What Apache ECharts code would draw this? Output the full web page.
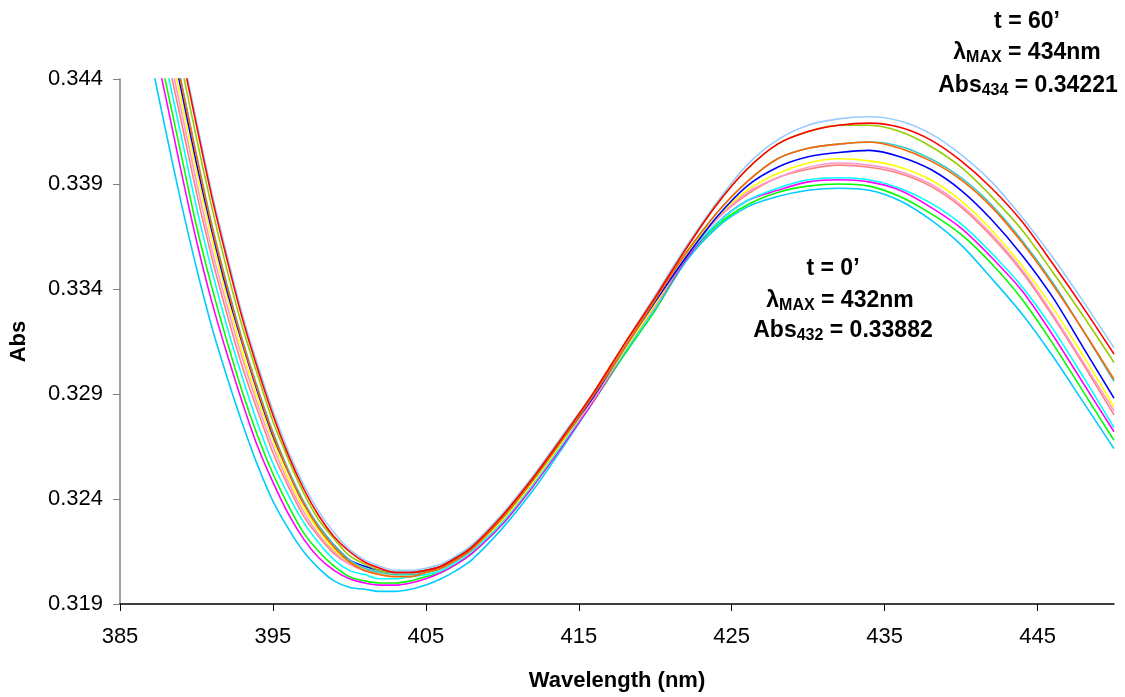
<!DOCTYPE html>
<html><head><meta charset="utf-8">
<script src="https://cdn.jsdelivr.net/npm/echarts@6/dist/echarts.min.js"></script>
<style>html,body{margin:0;padding:0;background:#fff}#c{width:1125px;height:697px}</style>
</head><body><div id="c"></div>
<script>
const wavelengths = [386,387,388,389,390,391,392,393,394,395,396,397,398,399,400,401,402,403,404,405,406,407,408,
  410,412,414,416,418,420,422,424,426,428,430,432,434,436,438,440,442,444,446,448,450];
const xTicks = [385,395,405,415,425,435,445];
const yTicks = [0.319,0.324,0.329,0.334,0.339,0.344];

const sLightBlue = [0.3567,0.3528,0.3490,0.3455,0.3420,0.3386,0.3356,0.3328,0.3304,0.3282,0.3263,0.3247,0.3234,0.3224,0.3216,0.3211,0.3208,
  0.3206,0.3206,0.3207,0.3209,0.3213,0.3218,
  0.3233,0.3251,0.3271,0.3291,0.3314,0.3337,0.3360,0.3381,0.3399,0.3411,0.3418,0.3421,
  0.3422,0.3420,0.3414,0.3404,0.3391,0.3374,0.3355,0.3334,0.3312];
const sRed = [0.3565,0.3526,0.3488,0.3453,0.3418,0.3384,0.3354,0.3326,0.3302,0.3280,0.3261,0.3245,0.3232,0.3222,0.3215,0.3210,0.3207,
  0.3205,0.3205,0.3206,0.3208,0.3212,0.3217,
  0.3232,0.3250,0.3270,0.3291,0.3314,0.3336,0.3359,0.3380,0.3397,0.3409,0.3415,0.3418,
  0.3419,0.3417,0.3411,0.3401,0.3388,0.3372,0.3352,0.3331,0.3309];
const sYellowGreen = [0.3558,0.3519,0.3481,0.3447,0.3412,0.3379,0.3349,0.3322,0.3299,0.3277,0.3259,0.3243,0.3230,0.3221,0.3213,0.3209,0.3206,
  0.3205,0.3205,0.3206,0.3208,0.3212,0.3217,
  0.3232,0.3250,0.3270,0.3291,0.3314,0.3336,0.3359,0.3380,0.3397,0.3409,0.3415,0.3418,
  0.3418,0.3415,0.3408,0.3398,0.3384,0.3368,0.3348,0.3327,0.3305];
const sOrange = [0.3548,0.3509,0.3472,0.3438,0.3403,0.3370,0.3341,0.3315,0.3292,0.3271,0.3253,0.3238,0.3226,0.3217,0.3210,0.3206,0.3204,
  0.3203,0.3203,0.3205,0.3207,0.3211,0.3216,
  0.3231,0.3249,0.3269,0.3290,0.3312,0.3335,0.3357,0.3376,0.3391,0.3402,0.3407,0.3409,
  0.3410,0.3407,0.3401,0.3392,0.3379,0.3362,0.3342,0.3320,0.3297];
const sTeal = [0.3547,0.3509,0.3473,0.3439,0.3404,0.3371,0.3342,0.3316,0.3293,0.3272,0.3254,0.3239,0.3227,0.3218,0.3211,0.3207,0.3205,
  0.3204,0.3204,0.3205,0.3207,0.3211,0.3216,
  0.3231,0.3249,0.3269,0.3290,0.3312,0.3335,0.3357,0.3376,0.3391,0.3402,0.3407,0.3409,
  0.3410,0.3408,0.3402,0.3393,0.3380,0.3363,0.3343,0.3320,0.3296];
const sBlue = [0.3544,0.3505,0.3469,0.3435,0.3400,0.3368,0.3339,0.3314,0.3291,0.3270,0.3253,0.3238,0.3227,0.3218,0.3211,0.3208,0.3206,
  0.3205,0.3205,0.3206,0.3208,0.3212,0.3217,
  0.3231,0.3249,0.3269,0.3289,0.3312,0.3334,0.3355,0.3374,0.3389,0.3398,0.3403,0.3405,
  0.3406,0.3403,0.3397,0.3387,0.3373,0.3356,0.3336,0.3312,0.3288];
const sYellow = [0.3539,0.3501,0.3465,0.3430,0.3396,0.3364,0.3336,0.3310,0.3288,0.3268,0.3250,0.3236,0.3225,0.3216,0.3210,0.3207,0.3205,
  0.3204,0.3204,0.3205,0.3207,0.3211,0.3216,
  0.3230,0.3248,0.3268,0.3289,0.3311,0.3333,0.3356,0.3374,0.3387,0.3395,0.3400,0.3402,
  0.3401,0.3398,0.3392,0.3382,0.3368,0.3351,0.3331,0.3308,0.3284];
const sPink = [0.3533,0.3495,0.3459,0.3425,0.3391,0.3359,0.3332,0.3307,0.3285,0.3265,0.3248,0.3234,0.3223,0.3215,0.3209,0.3206,0.3205,
  0.3204,0.3204,0.3205,0.3207,0.3211,0.3216,
  0.3230,0.3248,0.3268,0.3288,0.3311,0.3332,0.3356,0.3373,0.3386,0.3393,0.3398,0.3400,
  0.3399,0.3396,0.3390,0.3380,0.3366,0.3349,0.3328,0.3305,0.3282];
const sSalmon = [0.3528,0.3490,0.3454,0.3420,0.3386,0.3355,0.3328,0.3303,0.3282,0.3262,0.3246,0.3232,0.3222,0.3214,0.3209,0.3206,0.3205,
  0.3204,0.3204,0.3205,0.3207,0.3211,0.3216,
  0.3230,0.3248,0.3268,0.3288,0.3311,0.3332,0.3355,0.3373,0.3385,0.3393,0.3397,0.3399,
  0.3398,0.3395,0.3389,0.3379,0.3365,0.3348,0.3327,0.3304,0.3280];
const sCyan = [0.3520,0.3482,0.3447,0.3413,0.3379,0.3349,0.3322,0.3298,0.3276,0.3257,0.3242,0.3229,0.3219,0.3211,0.3206,0.3204,0.3202,
  0.3202,0.3203,0.3204,0.3206,0.3210,0.3215,
  0.3229,0.3247,0.3267,0.3288,0.3310,0.3331,0.3355,0.3371,0.3382,0.3388,0.3392,0.3393,
  0.3392,0.3388,0.3381,0.3371,0.3357,0.3341,0.3321,0.3298,0.3274];
const sMagenta = [0.3501,0.3465,0.3431,0.3396,0.3363,0.3334,0.3309,0.3286,0.3265,0.3248,0.3233,0.3221,0.3212,0.3206,0.3202,0.3200,0.3199,
  0.3199,0.3200,0.3202,0.3205,0.3209,0.3214,
  0.3228,0.3246,0.3266,0.3287,0.3310,0.3331,0.3354,0.3371,0.3382,0.3387,0.3391,0.3392,
  0.3391,0.3387,0.3379,0.3369,0.3355,0.3339,0.3318,0.3295,0.3272];
const sGreen = [0.3510,0.3473,0.3438,0.3404,0.3370,0.3341,0.3315,0.3291,0.3270,0.3252,0.3237,0.3224,0.3215,0.3208,0.3203,0.3201,0.3200,
  0.3200,0.3201,0.3203,0.3205,0.3209,0.3214,
  0.3228,0.3246,0.3266,0.3287,0.3309,0.3330,0.3354,0.3370,0.3380,0.3386,0.3389,0.3390,
  0.3389,0.3384,0.3376,0.3366,0.3352,0.3335,0.3314,0.3291,0.3268];
const sSkyBlue = [0.3485,0.3450,0.3415,0.3381,0.3350,0.3322,0.3298,0.3276,0.3256,0.3239,0.3226,0.3215,0.3207,0.3201,0.3198,0.3197,0.3196,
  0.3196,0.3197,0.3199,0.3202,0.3206,0.3211,
  0.3226,0.3244,0.3265,0.3287,0.3309,0.3330,0.3353,0.3369,0.3379,0.3384,0.3387,0.3388,
  0.3387,0.3382,0.3373,0.3361,0.3345,0.3328,0.3308,0.3286,0.3264];

const seriesDefs = [
  ['t60', sLightBlue, '#99CCFF'],
  ['t0', sSkyBlue, '#00CCFF'],
  ['t5', sGreen, '#00FF00'],
  ['t10', sMagenta, '#FF00FF'],
  ['t15', sCyan, '#00FFFF'],
  ['t20', sSalmon, '#FF8080'],
  ['t25', sPink, '#FF99CC'],
  ['t30', sYellow, '#FFFF00'],
  ['t35', sBlue, '#0000FF'],
  ['t40', sTeal, '#33CCCC'],
  ['t45', sOrange, '#FF6600'],
  ['t50', sYellowGreen, '#99CC00'],
  ['t55', sRed, '#FF0000']
];

const FONT = 'Liberation Sans, Arial, sans-serif';
const chart = echarts.init(document.getElementById('c'), null, {renderer: 'canvas'});
function line(x, y, parts) {
  return {type: 'text', x: x, y: y, style: {
    text: parts, textAlign: 'center', textVerticalAlign: 'bottom',
    rich: {
      a: {fontFamily: FONT, fontWeight: 'bold', fontSize: 23, lineHeight: 26, color: '#000'},
      s: {fontFamily: FONT, fontWeight: 'bold', fontSize: 16, lineHeight: 12, color: '#000', verticalAlign: 'bottom'}
    }
  }};
}
chart.setOption({
  animation: false,
  backgroundColor: '#fff',
  grid: {left: 118, right: 11, top: 79, bottom: 87},
  xAxis: {
    type: 'value', min: 385, max: 450,
    name: 'Wavelength (nm)', nameLocation: 'middle', nameGap: 66,
    nameTextStyle: {fontFamily: FONT, fontWeight: 'bold', fontSize: 22, color: '#000'},
    axisLine: {show: true, lineStyle: {color: '#000', width: 1.5}},
    axisTick: {show: true, length: 7, lineStyle: {color: '#000'}, customValues: xTicks},
    axisLabel: {customValues: xTicks, margin: 22, fontFamily: FONT, fontSize: 22, color: '#000'},
    splitLine: {show: false}
  },
  yAxis: {
    type: 'value', min: 0.319, max: 0.344,
    name: 'Abs', nameLocation: 'middle', nameGap: 90,
    nameTextStyle: {fontFamily: FONT, fontWeight: 'bold', fontSize: 22, color: '#000'},
    axisLine: {show: true, lineStyle: {color: '#808080', width: 1.5}},
    axisTick: {show: true, length: 7, lineStyle: {color: '#808080'}, customValues: yTicks},
    axisLabel: {customValues: yTicks, margin: 17, fontFamily: FONT, fontSize: 22, color: '#000',
      formatter: v => v.toFixed(3)},
    splitLine: {show: false}
  },
  series: seriesDefs.map(d => ({
    name: d[0], type: 'line', showSymbol: false, smooth: 0.3, clip: true,
    lineStyle: {color: d[2], width: 1.6}, itemStyle: {color: d[2]},
    data: wavelengths.map((w, i) => [w, d[1][i]])
  })),
  graphic: [
    line(1027, 35, '{a|t = 60’}'),
    line(1027, 66, '{a|λ}{s|MAX}{a| = 434nm}'),
    line(1028, 99, '{a|Abs}{s|434}{a| = 0.34221}'),
    line(833, 282, '{a|t = 0’}'),
    line(840, 314, '{a|λ}{s|MAX}{a| = 432nm}'),
    line(843, 344, '{a|Abs}{s|432}{a| = 0.33882}')
  ]
});
</script>
</body></html>
